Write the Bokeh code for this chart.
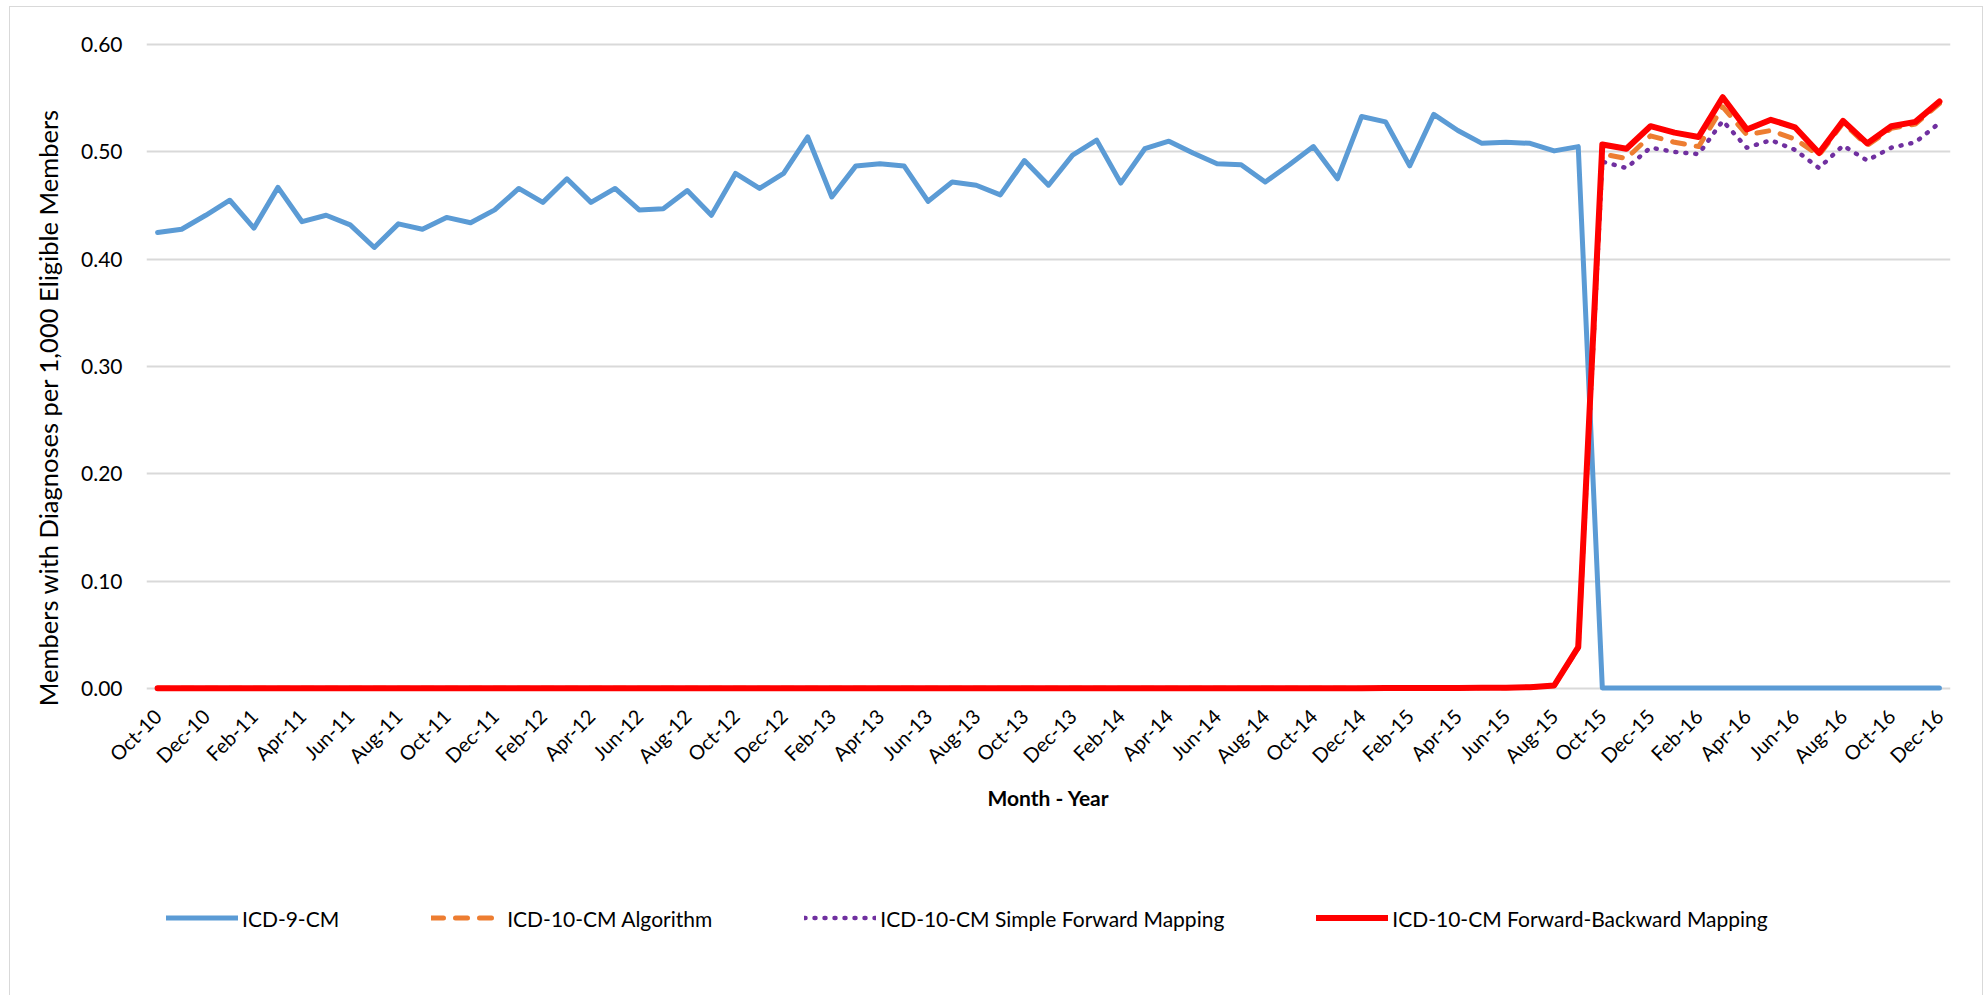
from math import pi
from bokeh.plotting import figure
from bokeh.layouts import row, column
from bokeh.models import (Range1d, FixedTicker, NumeralTickFormatter, Legend,
                          LegendItem, Label, ColumnDataSource)
from bokeh.embed import file_html
from bokeh.resources import INLINE

months = ["Oct-10", "Nov-10", "Dec-10",
          "Jan-11", "Feb-11", "Mar-11", "Apr-11", "May-11", "Jun-11", "Jul-11", "Aug-11", "Sep-11", "Oct-11", "Nov-11", "Dec-11",
          "Jan-12", "Feb-12", "Mar-12", "Apr-12", "May-12", "Jun-12", "Jul-12", "Aug-12", "Sep-12", "Oct-12", "Nov-12", "Dec-12",
          "Jan-13", "Feb-13", "Mar-13", "Apr-13", "May-13", "Jun-13", "Jul-13", "Aug-13", "Sep-13", "Oct-13", "Nov-13", "Dec-13",
          "Jan-14", "Feb-14", "Mar-14", "Apr-14", "May-14", "Jun-14", "Jul-14", "Aug-14", "Sep-14", "Oct-14", "Nov-14", "Dec-14",
          "Jan-15", "Feb-15", "Mar-15", "Apr-15", "May-15", "Jun-15", "Jul-15", "Aug-15", "Sep-15", "Oct-15", "Nov-15", "Dec-15",
          "Jan-16", "Feb-16", "Mar-16", "Apr-16", "May-16", "Jun-16", "Jul-16", "Aug-16", "Sep-16", "Oct-16", "Nov-16", "Dec-16"]

labeled_months = ["Oct-10", "Dec-10", "Feb-11", "Apr-11", "Jun-11", "Aug-11", "Oct-11", "Dec-11",
                  "Feb-12", "Apr-12", "Jun-12", "Aug-12", "Oct-12", "Dec-12", "Feb-13", "Apr-13",
                  "Jun-13", "Aug-13", "Oct-13", "Dec-13", "Feb-14", "Apr-14", "Jun-14", "Aug-14",
                  "Oct-14", "Dec-14", "Feb-15", "Apr-15", "Jun-15", "Aug-15", "Oct-15", "Dec-15",
                  "Feb-16", "Apr-16", "Jun-16", "Aug-16", "Oct-16", "Dec-16"]

icd9 = [0.425, 0.428, 0.441, 0.455, 0.429, 0.467, 0.435, 0.441, 0.432, 0.411,
        0.433, 0.428, 0.439, 0.434, 0.446, 0.466, 0.453, 0.475, 0.453, 0.466,
        0.446, 0.447, 0.464, 0.441, 0.480, 0.466, 0.480, 0.514, 0.458, 0.487,
        0.489, 0.487, 0.454, 0.472, 0.469, 0.460, 0.492, 0.469, 0.497, 0.511,
        0.471, 0.503, 0.510, 0.499, 0.489, 0.488, 0.472, 0.488, 0.505, 0.475,
        0.533, 0.528, 0.487, 0.535, 0.520, 0.508, 0.509, 0.508, 0.501, 0.505,
        0.0005, 0.0004, 0.0004, 0.0004, 0.0004, 0.0004, 0.0004, 0.0004, 0.0004, 0.0004,
        0.0004, 0.0004, 0.0004, 0.0004, 0.0004]

icd10_algorithm = [0.0002, 0.0002, 0.0002, 0.0002, 0.0002, 0.0002, 0.0002, 0.0002, 0.0002, 0.0002,
                   0.0002, 0.0002, 0.0002, 0.0002, 0.0002, 0.0002, 0.0002, 0.0002, 0.0002, 0.0002,
                   0.0002, 0.0002, 0.0002, 0.0002, 0.0002, 0.0002, 0.0002, 0.0002, 0.0002, 0.0002,
                   0.0002, 0.0002, 0.0002, 0.0002, 0.0002, 0.0002, 0.0002, 0.0002, 0.0002, 0.0002,
                   0.0003, 0.0003, 0.0003, 0.0003, 0.0003, 0.0003, 0.0003, 0.0003, 0.0003, 0.0003,
                   0.0003, 0.0004, 0.0004, 0.0004, 0.0005, 0.0006, 0.0008, 0.0012, 0.0028, 0.0380,
                   0.498, 0.494, 0.515, 0.509, 0.505, 0.542, 0.516, 0.520, 0.512, 0.497,
                   0.527, 0.506, 0.522, 0.526, 0.545]

icd10_simple_forward = [0.0002, 0.0002, 0.0002, 0.0002, 0.0002, 0.0002, 0.0002, 0.0002, 0.0002, 0.0002,
                        0.0002, 0.0002, 0.0002, 0.0002, 0.0002, 0.0002, 0.0002, 0.0002, 0.0002, 0.0002,
                        0.0002, 0.0002, 0.0002, 0.0002, 0.0002, 0.0002, 0.0002, 0.0002, 0.0002, 0.0002,
                        0.0002, 0.0002, 0.0002, 0.0002, 0.0002, 0.0002, 0.0002, 0.0002, 0.0002, 0.0002,
                        0.0003, 0.0003, 0.0003, 0.0003, 0.0003, 0.0003, 0.0003, 0.0003, 0.0003, 0.0003,
                        0.0003, 0.0004, 0.0004, 0.0004, 0.0005, 0.0006, 0.0008, 0.0012, 0.0028, 0.0375,
                        0.491, 0.485, 0.504, 0.500, 0.498, 0.529, 0.504, 0.511, 0.502, 0.485,
                        0.506, 0.492, 0.504, 0.509, 0.527]

icd10_forward_backward = [0.0002, 0.0002, 0.0002, 0.0002, 0.0002, 0.0002, 0.0002, 0.0002, 0.0002, 0.0002,
                          0.0002, 0.0002, 0.0002, 0.0002, 0.0002, 0.0002, 0.0002, 0.0002, 0.0002, 0.0002,
                          0.0002, 0.0002, 0.0002, 0.0002, 0.0002, 0.0002, 0.0002, 0.0002, 0.0002, 0.0002,
                          0.0002, 0.0002, 0.0002, 0.0002, 0.0002, 0.0002, 0.0002, 0.0002, 0.0002, 0.0002,
                          0.0003, 0.0003, 0.0003, 0.0003, 0.0003, 0.0003, 0.0003, 0.0003, 0.0003, 0.0003,
                          0.0003, 0.0004, 0.0004, 0.0004, 0.0005, 0.0006, 0.0008, 0.0012, 0.0028, 0.0385,
                          0.507, 0.503, 0.524, 0.518, 0.514, 0.551, 0.521, 0.530, 0.523, 0.499,
                          0.529, 0.508, 0.524, 0.528, 0.547]

series_names = ["ICD-9-CM", "ICD-10-CM Algorithm", "ICD-10-CM Simple Forward Mapping",
                "ICD-10-CM Forward-Backward Mapping"]
y_title = "Members with Diagnoses per 1,000 Eligible Members"
x_title = "Month - Year"
y_ticks = [0.0, 0.1, 0.2, 0.3, 0.4, 0.5, 0.6]

FONT = "Lato"
STYLES = [dict(line_color="#5B9BD5", line_width=5),
          dict(line_color="#ED7D31", line_width=5, line_dash="12 12"),
          dict(line_color="#7030A0", line_width=4.5, line_dash="1 9"),
          dict(line_color="#FF0000", line_width=6)]

LEFT_W, MAIN_W, MAIN_H, LEG_H = 60, 1912, 833, 155
TOTAL_H = MAIN_H + LEG_H

idx = list(range(len(months)))
src = ColumnDataSource(dict(x=idx, icd9=icd9, alg=icd10_algorithm,
                            sfm=icd10_simple_forward, fbm=icd10_forward_backward))

# ---------------- main chart ----------------
p = figure(width=MAIN_W, height=MAIN_H, output_backend="svg", toolbar_location=None,
           x_range=Range1d(-0.46, len(months) - 1 + 0.46),
           y_range=Range1d(-0.0056, 0.602),
           min_border_left=76, min_border_right=32, min_border_top=35,
           min_border_bottom=146)
p.outline_line_color = None
p.background_fill_color = "white"
p.border_fill_color = "white"

p.xgrid.grid_line_color = None
p.ygrid.grid_line_color = "#D9D9D9"
p.ygrid.grid_line_width = 2
p.ygrid.ticker = FixedTicker(ticks=y_ticks)

p.yaxis.ticker = FixedTicker(ticks=y_ticks)
p.yaxis.formatter = NumeralTickFormatter(format="0.00")
p.yaxis.axis_line_color = None
p.yaxis.major_tick_line_color = None
p.yaxis.minor_tick_line_color = None
p.yaxis.major_label_standoff = 18
p.yaxis.major_label_text_font = FONT
p.yaxis.major_label_text_font_size = "21px"
p.yaxis.major_label_text_color = "#000000"

tick_idx = [months.index(m) for m in labeled_months]
p.xaxis.ticker = FixedTicker(ticks=tick_idx)
p.xaxis.major_label_overrides = {i: months[i] for i in tick_idx}
p.xaxis.major_label_orientation = pi / 4
p.xaxis.axis_line_color = None
p.xaxis.major_tick_line_color = None
p.xaxis.minor_tick_line_color = None
p.xaxis.major_label_standoff = 12
p.xaxis.major_label_text_font = FONT
p.xaxis.major_label_text_font_size = "20px"
p.xaxis.major_label_text_baseline = "top"
p.xaxis.major_label_text_color = "#000000"
p.xaxis.axis_label = x_title
p.xaxis.axis_label_text_font = FONT
p.xaxis.axis_label_text_font_style = "bold"
p.xaxis.axis_label_text_font_size = "21px"
p.xaxis.axis_label_text_color = "#000000"
p.xaxis.axis_label_standoff = 6

cols = ["icd9", "alg", "sfm", "fbm"]
for c, st in zip(cols, STYLES):
    p.line("x", c, source=src, line_join="round", line_cap="round", **st)

# ---------------- y title strip ----------------
yt = figure(width=LEFT_W, height=TOTAL_H, output_backend="svg", toolbar_location=None,
            x_range=Range1d(0, LEFT_W), y_range=Range1d(TOTAL_H, 0),
            x_axis_location=None, y_axis_location=None,
            min_border=0, min_border_left=0, min_border_right=0,
            min_border_top=0, min_border_bottom=0)
yt.outline_line_color = None
yt.grid.visible = False
yt.add_layout(Label(x=37, y=400, text=y_title, angle=pi / 2,
                    text_align="center", text_baseline="middle",
                    text_font=FONT, text_font_size="25.5px", text_color="#000000"))

# ---------------- legend strip ----------------
lg = figure(width=MAIN_W, height=LEG_H, output_backend="svg", toolbar_location=None,
            x_range=Range1d(0, 1), y_range=Range1d(0, 1),
            x_axis_location=None, y_axis_location=None,
            min_border=0, min_border_left=0, min_border_right=0,
            min_border_top=0, min_border_bottom=0)
lg.outline_line_color = None
lg.grid.visible = False
items = []
for name, st in zip(series_names, STYLES):
    r = lg.line(x=[-3, -2], y=[-3, -3], line_join="round", line_cap="round", **st)
    items.append(LegendItem(label=name, renderers=[r]))
legend = Legend(items=items, orientation="horizontal", location="center_left",
                border_line_color=None, background_fill_alpha=0,
                label_text_font=FONT, label_text_font_size="21px",
                label_text_color="#000000",
                glyph_width=72, glyph_height=20, label_standoff=4,
                spacing=92, padding=0, margin=20)
lg.add_layout(legend, "center")

layout = row(yt, column(p, lg))
layout.styles = {"border-left": "1px solid #D9D9D9", "border-top": "1px solid #D9D9D9",
                 "border-right": "1px solid #D9D9D9", "margin-left": "9px", "margin-top": "6px"}
open("out.html", "w").write(file_html(layout, INLINE))
